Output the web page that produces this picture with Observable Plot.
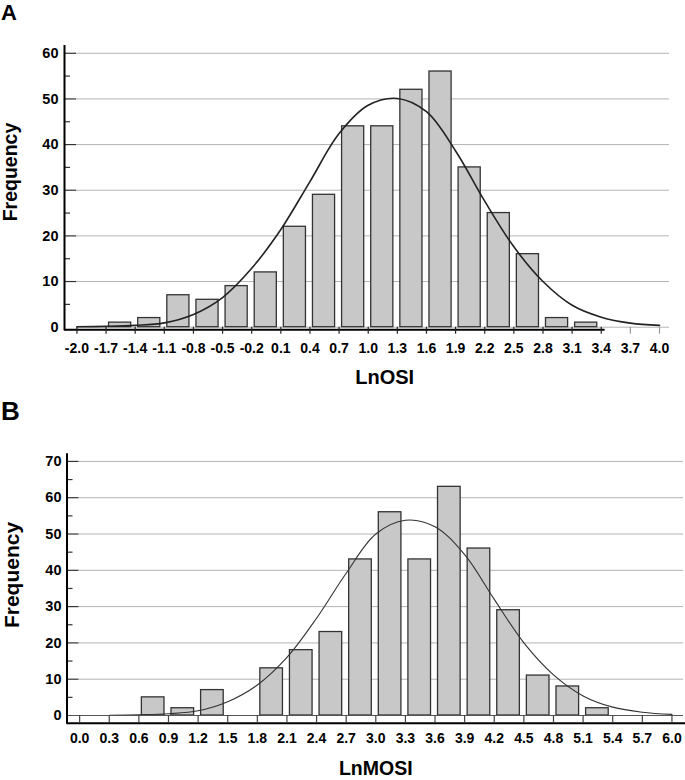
<!DOCTYPE html>
<html>
<head>
<meta charset="utf-8">
<script src="https://cdn.jsdelivr.net/npm/d3@7"></script>
<script src="https://cdn.jsdelivr.net/npm/@observablehq/plot@0.6"></script>
<style>
  html, body { margin: 0; padding: 0; background: #fff; }
  #page { position: relative; width: 685px; height: 780px; overflow: hidden;
          font-family: "Liberation Sans", Arial, Helvetica, sans-serif; font-weight: bold; color: #000; }
  .panel { position: absolute; left: 0; }
  .lbl { position: absolute; line-height: 1; white-space: nowrap; }
</style>
</head>
<body>
<div id="page">
  <div id="plotA" class="panel" style="top:0px"></div>
  <div id="plotB" class="panel" style="top:390px"></div>
  <div class="lbl" style="left:1px; top:3.5px; font-size:22px; line-height:0.85;">A</div>
  <div class="lbl" style="left:1px; top:400px; font-size:26px; line-height:0.85;">B</div>
  <div class="lbl" style="left:10.5px; top:171.7px; font-size:19.5px; transform: translate(-50%,-50%) rotate(-90deg);">Frequency</div>
  <div class="lbl" style="left:11.1px; top:575px; font-size:21px; transform: translate(-50%,-50%) rotate(-90deg);">Frequency</div>
  <div class="lbl" style="left:384.7px; top:367.4px; font-size:20px; transform: translateX(-50%);">LnOSI</div>
  <div class="lbl" style="left:375.8px; top:760.6px; font-size:19.5px; line-height:0.8; transform: translateX(-50%);">LnMOSI</div>
</div>
<script>
// ---------------- Panel A: LnOSI ----------------
const binWidth = 0.3;
const binStartA = [-1.7, -1.4, -1.1, -0.8, -0.5, -0.2, 0.1, 0.4, 0.7, 1.0, 1.3, 1.6, 1.9, 2.2, 2.5, 2.8, 3.1];
const freqA     = [1, 2, 7, 6, 9, 12, 22, 29, 44, 44, 52, 56, 35, 25, 16, 2, 1];
const curveAx = [-2.0, -1.7, -1.4, -1.1, -0.8, -0.5, -0.2, 0.1, 0.4, 0.7, 1.0, 1.3, 1.6, 1.9, 2.2, 2.5, 2.8, 3.1, 3.4, 3.7, 4.0];
const curveAy = [0.1, 0.18, 0.4, 0.95, 2.8, 6.5, 12.9, 21.4, 31.9, 42.4, 48.6, 50.1, 47.2, 38.6, 27.6, 17.6, 10.0, 4.8, 2.2, 0.9, 0.4];
const xTicksA = [-2.0, -1.7, -1.4, -1.1, -0.8, -0.5, -0.2, 0.1, 0.4, 0.7, 1.0, 1.3, 1.6, 1.9, 2.2, 2.5, 2.8, 3.1, 3.4, 3.7, 4.0];
const yTicksA = [0, 10, 20, 30, 40, 50, 60];
const yMinorA = [5, 15, 25, 35, 45, 55];
const xDomainA = [-2.128, 4.103];
const yDomainA = [0, 61.7];
const axisEndA = 3.44;

// ---------------- Panel B: LnMOSI ----------------
const binStartB = [0.6, 0.9, 1.2, 1.8, 2.1, 2.4, 2.7, 3.0, 3.3, 3.6, 3.9, 4.2, 4.5, 4.8, 5.1];
const freqB     = [5, 2, 7, 13, 18, 23, 43, 56, 43, 63, 46, 29, 11, 8, 2];
const curveBx = [0.3, 0.6, 0.9, 1.2, 1.5, 1.8, 2.1, 2.4, 2.7, 3.0, 3.3, 3.6, 3.9, 4.2, 4.5, 4.8, 5.1, 5.4, 5.7, 6.0];
const curveBy = [0.05, 0.2, 0.5, 1.3, 3.8, 8.4, 16.0, 26.8, 39.2, 50.0, 53.8, 52.0, 44.3, 32.0, 20.0, 11.2, 5.4, 2.3, 0.9, 0.3];
const xTicksB = [0.0, 0.3, 0.6, 0.9, 1.2, 1.5, 1.8, 2.1, 2.4, 2.7, 3.0, 3.3, 3.6, 3.9, 4.2, 4.5, 4.8, 5.1, 5.4, 5.7, 6.0];
const yTicksB = [10, 20, 30, 40, 50, 60, 70];
const yLabelsB = [0, 10, 20, 30, 40, 50, 60, 70];
const yMinorB = [5, 15, 25, 35, 45, 55, 65];
const xDomainB = [-0.128, 6.117];
const yDomainB = [0, 72.1];

const W = 685, H = 390;
const font = '"Liberation Sans", Arial, Helvetica, sans-serif';
const fmt = d => d.toFixed(1);

function bars(starts, freqs) {
  return starts.map((s, i) => ({x1: s, x2: s + binWidth, y: freqs[i]}));
}
function pts(xs, ys) { return xs.map((x, i) => ({x, y: ys[i]})); }

// Panel A
const mA = {left: 64, right: 16, top: 45, bottom: 63.3};
const fwA = W - mA.left - mA.right;
const plotA = Plot.plot({
  width: W, height: H,
  marginLeft: mA.left, marginRight: mA.right, marginTop: mA.top, marginBottom: mA.bottom,
  style: {fontFamily: font, fontWeight: "bold", background: "transparent", color: "#000"},
  x: {domain: xDomainA},
  y: {domain: yDomainA},
  marks: [
    Plot.gridY(yTicksA, {stroke: "#b4b4b4", strokeOpacity: 1, strokeWidth: 1, insetLeft: 12}),
    Plot.tickY(yTicksA.filter(d => d > 0), {y: d => d, stroke: "#333", strokeWidth: 1.2, insetRight: fwA - 12}),
    Plot.tickY(yMinorA, {y: d => d, stroke: "#333", strokeWidth: 1.2, insetRight: fwA - 6}),
    Plot.rectY(bars(binStartA, freqA), {x1: "x1", x2: "x2", y: "y", fill: "#c8c8c8", stroke: "#333", strokeWidth: 1.3, insetLeft: 3, insetRight: 4}),
    Plot.line(pts(curveAx, curveAy), {x: "x", y: "y", curve: "catmull-rom", stroke: "#222", strokeWidth: 1.6}),
    Plot.ruleX([xDomainA[0]], {stroke: "#000", strokeWidth: 2, insetBottom: -3.5}),
    Plot.ruleY([0], {x1: xDomainA[0], x2: axisEndA, dy: 2.6, stroke: "#000", strokeWidth: 2}),
    Plot.axisX({ticks: xTicksA.filter(t => t <= axisEndA), tickSize: 7, tickPadding: 9, tickFormat: fmt,
                fontSize: 14, fontWeight: "bold", stroke: "#222", strokeWidth: 1.2, fill: "#000", label: null}),
    Plot.axisX({ticks: xTicksA.filter(t => t > axisEndA), tickSize: 7, tickPadding: 9, tickFormat: fmt,
                fontSize: 14, fontWeight: "bold", stroke: "#999", strokeWidth: 1.2, fill: "#000", label: null}),
    Plot.axisY({ticks: yTicksA, tickSize: 0, tickPadding: 6, fontSize: 14.5, fontWeight: "bold", fill: "#000", label: null})
  ]
});
document.getElementById("plotA").appendChild(plotA);

// Panel B
const mB = {left: 66.5, right: 2, top: 63.3, bottom: 65};
const fwB = W - mB.left - mB.right;
const plotB = Plot.plot({
  width: W, height: H,
  marginLeft: mB.left, marginRight: mB.right, marginTop: mB.top, marginBottom: mB.bottom,
  style: {fontFamily: font, fontWeight: "bold", background: "transparent", color: "#000"},
  x: {domain: xDomainB},
  y: {domain: yDomainB},
  marks: [
    Plot.gridY(yTicksB, {stroke: "#b4b4b4", strokeOpacity: 1, strokeWidth: 1, insetLeft: 12}),
    Plot.tickY(yTicksB, {y: d => d, stroke: "#333", strokeWidth: 1.2, insetRight: fwB - 12}),
    Plot.tickY(yMinorB, {y: d => d, stroke: "#333", strokeWidth: 1.2, insetRight: fwB - 6}),
    Plot.rectY(bars(binStartB, freqB), {x1: "x1", x2: "x2", y: "y", fill: "#c8c8c8", stroke: "#333", strokeWidth: 1.3, insetLeft: 3, insetRight: 4}),
    Plot.line(pts(curveBx, curveBy), {x: "x", y: "y", curve: "catmull-rom", stroke: "#333", strokeWidth: 1.1}),
    Plot.ruleY([0], {stroke: "#555", strokeWidth: 1.2}),
    Plot.ruleX([xDomainB[0]], {stroke: "#000", strokeWidth: 2, insetBottom: -8.7}),
    Plot.ruleY([0], {dy: 7.7, stroke: "#000", strokeWidth: 2, insetRight: -2}),
    Plot.axisX({ticks: xTicksB, tickSize: 7.7, tickPadding: 9.5, tickFormat: fmt,
                fontSize: 14, fontWeight: "bold", stroke: "#444", strokeWidth: 1.2, fill: "#000", label: null}),
    Plot.axisY({ticks: yLabelsB, tickSize: 0, tickPadding: 5.5, fontSize: 14.5, fontWeight: "bold", fill: "#000", label: null})
  ]
});
document.getElementById("plotB").appendChild(plotB);
</script>
</body>
</html>
